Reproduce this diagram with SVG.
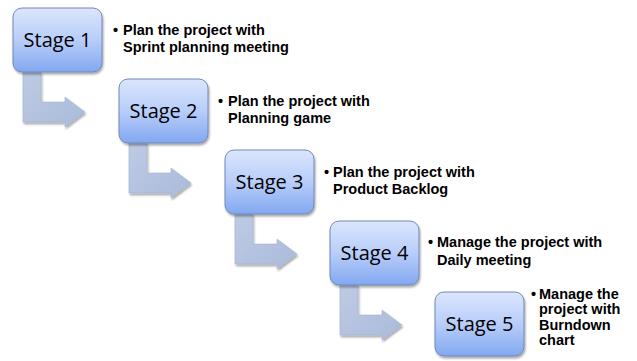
<svg xmlns="http://www.w3.org/2000/svg" width="637" height="361" viewBox="0 0 637 361">
<defs>
<linearGradient id="boxg" x1="0" y1="0" x2="0" y2="1">
<stop offset="0" stop-color="#dbe6fd"/>
<stop offset="0.5" stop-color="#b8cdf9"/>
<stop offset="1" stop-color="#82a8f1"/>
</linearGradient>
<linearGradient id="arrg" x1="0" y1="0" x2="1" y2="1">
<stop offset="0" stop-color="#bfcbe4"/>
<stop offset="1" stop-color="#a9bada"/>
</linearGradient>
<filter id="sh" x="-10%" y="-10%" width="130%" height="130%">
<feGaussianBlur in="SourceAlpha" stdDeviation="1.2"/>
<feOffset dx="1" dy="2" result="b"/>
<feComponentTransfer><feFuncA type="linear" slope="0.35"/></feComponentTransfer>
<feMerge><feMergeNode/><feMergeNode in="SourceGraphic"/></feMerge>
</filter>
<path id="arr" d="M0,0 L18,0 L18,30 L42,30 L42,25 L62,40 L42,55 L42,50 L0,50 Z"/>
</defs>
<style>
.box{fill:url(#boxg);stroke:#7088b4;stroke-width:1;filter:url(#sh)}
.arrow{fill:url(#arrg);stroke:#a3b3d1;stroke-width:0.6;filter:url(#sh)}
.st{font-family:"Open Sans","Liberation Sans",sans-serif;font-size:20px;fill:#000;text-anchor:middle}
.desc{font-family:"Liberation Sans","Open Sans",sans-serif;font-size:14.5px;font-weight:bold;fill:#000}
</style>
<rect width="637" height="361" fill="#ffffff"/>
<g id="connectors">
<use href="#arr" class="arrow" transform="translate(23,72)"/>
<use href="#arr" class="arrow" transform="translate(129,143)"/>
<use href="#arr" class="arrow" transform="translate(235,214)"/>
<use href="#arr" class="arrow" transform="translate(340,285)"/>
</g>
<g id="stage1">
<rect class="box" x="13" y="8" width="89" height="64" rx="9"/>
<text class="st" x="57.5" y="47">Stage 1</text>
</g>
<g id="stage2">
<rect class="box" x="119" y="79" width="89" height="64" rx="9"/>
<text class="st" x="163.5" y="118">Stage 2</text>
</g>
<g id="stage3">
<rect class="box" x="225" y="150" width="89" height="64" rx="9"/>
<text class="st" x="269.5" y="189">Stage 3</text>
</g>
<g id="stage4">
<rect class="box" x="330" y="221" width="89" height="64" rx="9"/>
<text class="st" x="374.5" y="260">Stage 4</text>
</g>
<g id="stage5">
<rect class="box" x="435" y="292" width="89" height="64" rx="9"/>
<text class="st" x="479.5" y="331">Stage 5</text>
</g>
<g id="desc1">
<text class="desc" x="113" y="35">•</text>
<text class="desc" x="123" y="35">Plan the project with</text>
<text class="desc" x="123" y="52">Sprint planning meeting</text>
</g>
<g id="desc2">
<text class="desc" x="218" y="106">•</text>
<text class="desc" x="228" y="106">Plan the project with</text>
<text class="desc" x="228" y="123">Planning game</text>
</g>
<g id="desc3">
<text class="desc" x="324" y="177">•</text>
<text class="desc" x="333" y="177">Plan the project with</text>
<text class="desc" x="333" y="194">Product Backlog</text>
</g>
<g id="desc4">
<text class="desc" x="428" y="247">•</text>
<text class="desc" x="437" y="247">Manage the project with</text>
<text class="desc" x="437" y="264.5">Daily meeting</text>
</g>
<g id="desc5">
<text class="desc" x="531" y="298.5">•</text>
<text class="desc" x="539" y="298.5">Manage the</text>
<text class="desc" x="539" y="314">project with</text>
<text class="desc" x="539" y="329.5">Burndown</text>
<text class="desc" x="539" y="345">chart</text>
</g>
</svg>
